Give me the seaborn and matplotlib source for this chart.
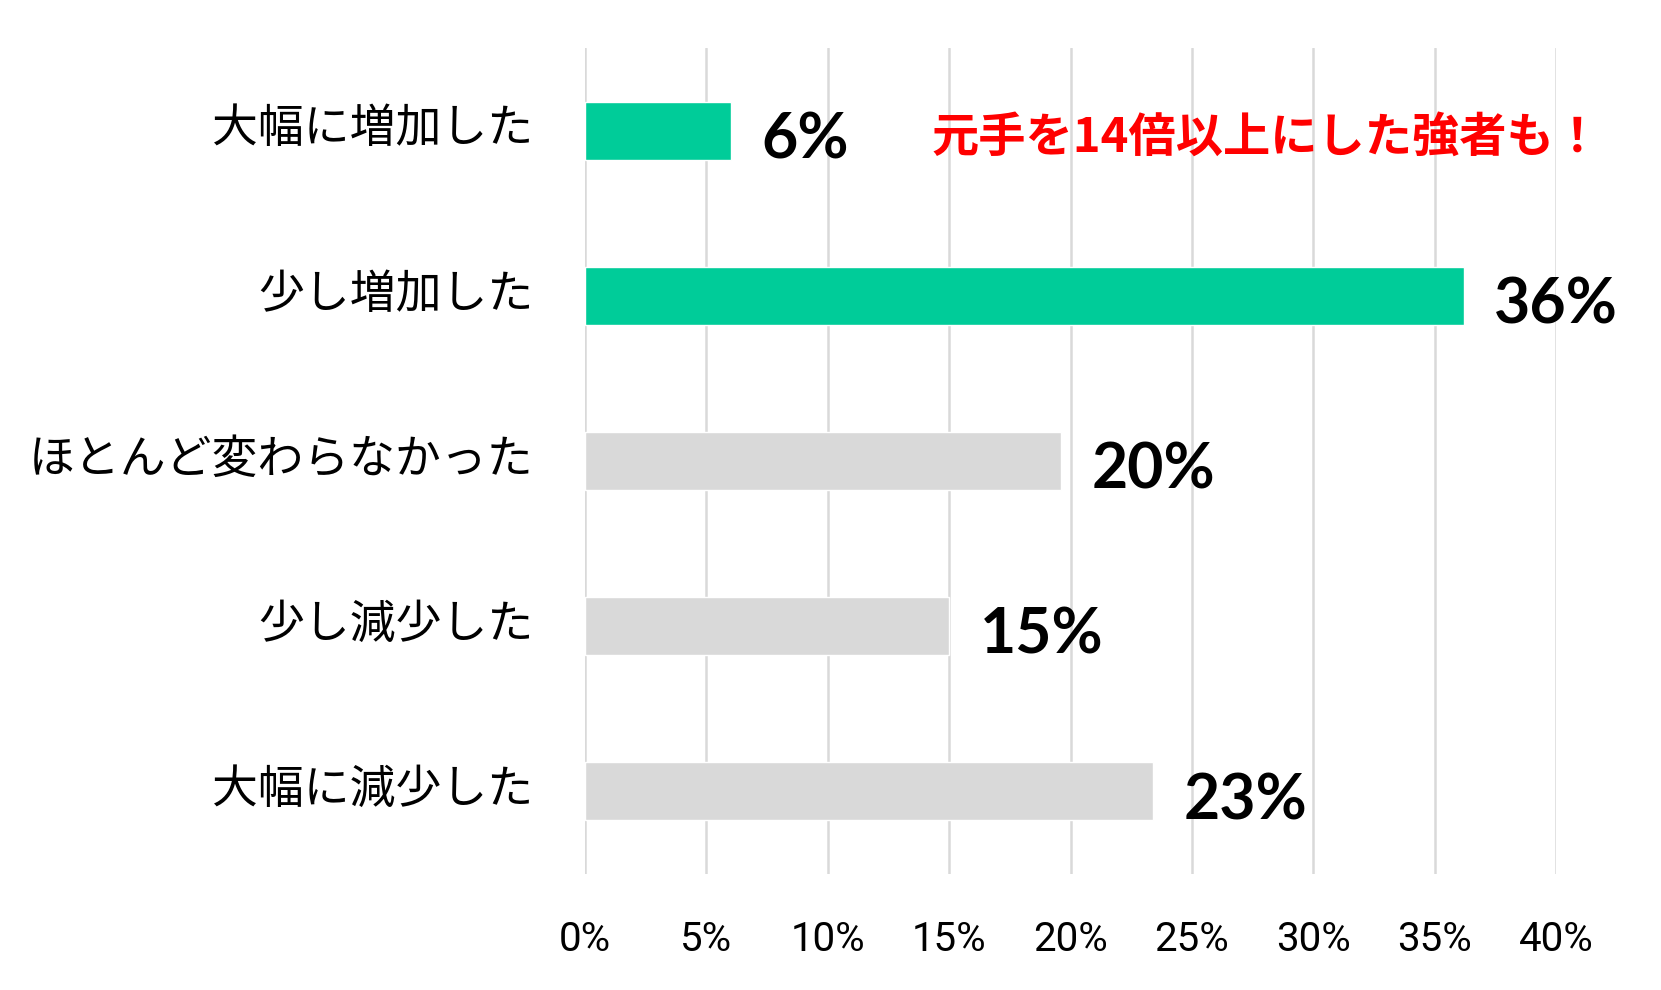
import matplotlib
matplotlib.use("Agg")
import matplotlib.pyplot as plt
import matplotlib.transforms as mtransforms
import seaborn as sns
import pandas as pd

categories = ["大幅に増加した", "少し増加した", "ほとんど変わらなかった", "少し減少した", "大幅に減少した"]
values = [6.0, 36.2, 19.6, 15.0, 23.4]
bar_colors = ["#00CC99", "#00CC99", "#D9D9D9", "#D9D9D9", "#D9D9D9"]
xticks = [0, 5, 10, 15, 20, 25, 30, 35, 40]
annotation = "元手を14倍以上にした強者も！"

sns.set_style("white")
plt.rcParams["font.family"] = ["Noto Sans CJK JP", "DejaVu Sans"]

df = pd.DataFrame({"cat": categories, "val": values})

fig = plt.figure(figsize=(16.61, 9.90), dpi=100)
ax = fig.add_axes([585 / 1661, 1 - 874 / 990, (1556 - 585) / 1661, (874 - 48) / 990])

sns.barplot(data=df, x="val", y="cat", hue="cat", palette=bar_colors, legend=False,
            orient="h", width=0.35, ax=ax, zorder=2, saturation=1)

ax.set_xlim(0, 40)
ax.set_ylim(4.5, -0.5)
ax.set_xticks(xticks)
ax.set_xticklabels([f"{t}%" for t in xticks], fontsize=29, color="black",
                   family=["Roboto", "DejaVu Sans"])
ax.set_yticks(range(len(categories)))
ax.set_yticklabels(categories, fontsize=33, color="black")
ax.tick_params(axis="x", length=0, pad=33)
ax.tick_params(axis="y", length=0, pad=37)
shift = mtransforms.ScaledTranslation(0, 5 / 72, fig.dpi_scale_trans)
for lab in ax.get_yticklabels():
    lab.set_transform(lab.get_transform() + shift)
ax.set_xlabel("")
ax.set_ylabel("")
ax.grid(axis="x", color="#D9D9D9", linewidth=1.8, zorder=0)
ax.grid(axis="y", visible=False)
for s in ax.spines.values():
    s.set_visible(False)

for i, v in enumerate(values):
    ax.annotate(f"{round(v)}%", xy=(v, i), xytext=(22, -7), textcoords="offset points",
                ha="left", va="center", fontsize=45, fontweight="bold",
                family=["Lato", "DejaVu Sans"], color="black", annotation_clip=False)

fig.text(932 / 1661, 1 - 138 / 990, annotation, ha="left", va="center",
         color="#FF0000", fontsize=34, fontweight="bold",
         family=["Noto Sans CJK JP", "DejaVu Sans"])

fig.savefig("out.png", dpi=100, facecolor="white")
